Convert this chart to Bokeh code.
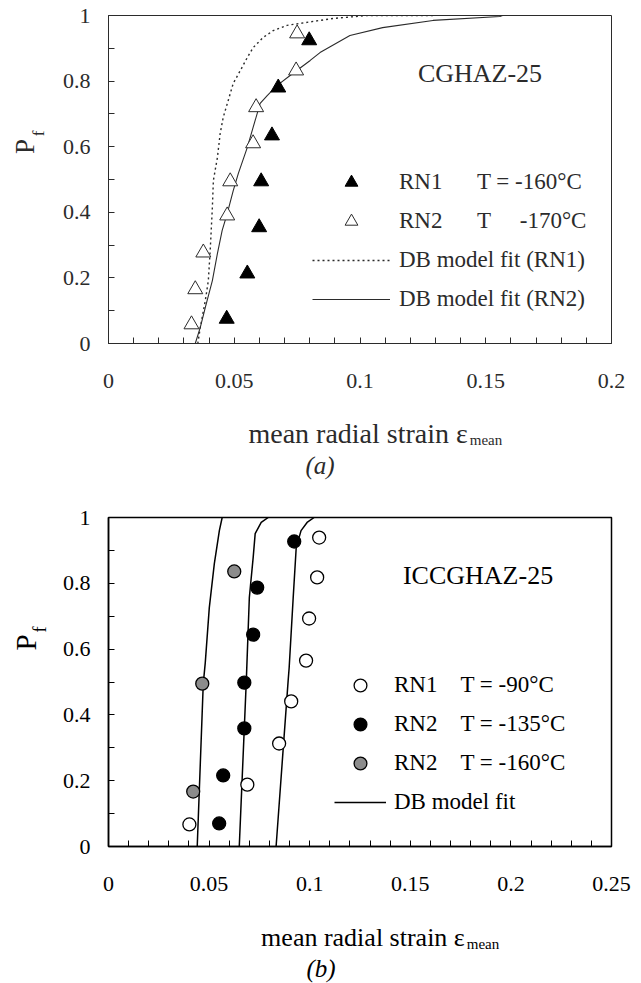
import numpy as np
from bokeh.plotting import figure
from bokeh.models import Range1d, FixedTicker, Label, Legend, LegendItem
from bokeh.layouts import column
from bokeh.embed import file_html
from bokeh.resources import INLINE

# ---------------- (a) CGHAZ-25 ----------------
a_x_ticks = [0, 0.05, 0.1, 0.15, 0.2]
a_x_labels = ["0", "0.05", "0.1", "0.15", "0.2"]
pf_ticks = [0, 0.2, 0.4, 0.6, 0.8, 1]
pf_labels = ["0", "0.2", "0.4", "0.6", "0.8", "1"]

a_rn1_strain = [0.0470, 0.0552, 0.0599, 0.0607, 0.0650, 0.0675, 0.0798]
a_rn1_pf = [0.075, 0.213, 0.354, 0.494, 0.634, 0.780, 0.924]

a_rn2_strain = [0.0330, 0.0345, 0.0377, 0.0472, 0.0484, 0.0575, 0.0587, 0.0746, 0.0750]
a_rn2_pf = [0.058, 0.165, 0.277, 0.390, 0.494, 0.610, 0.720, 0.832, 0.945]

a_fit_rn1_strain = [0.0355, 0.0365, 0.0385, 0.0397, 0.0405, 0.0413, 0.0417, 0.0433, 0.0444,
                    0.0456, 0.0476, 0.0496, 0.0524, 0.0552, 0.0575, 0.0615, 0.0655, 0.0710,
                    0.0762, 0.0893, 0.1030, 0.1290]
a_fit_rn1_pf = [0.0, 0.049, 0.131, 0.192, 0.293, 0.415, 0.497, 0.567, 0.640,
                0.689, 0.741, 0.793, 0.832, 0.872, 0.902, 0.933, 0.954, 0.970,
                0.976, 0.991, 1.0, 1.0]

a_fit_rn2_strain = [0.0345, 0.0365, 0.0385, 0.0413, 0.0433, 0.0452, 0.0472, 0.0496, 0.0516,
                    0.0552, 0.0575, 0.0603, 0.0631, 0.0671, 0.0722, 0.0802, 0.0841, 0.0960,
                    0.1090, 0.1290, 0.1556, 0.1567]
a_fit_rn2_pf = [0.0, 0.049, 0.110, 0.192, 0.274, 0.345, 0.396, 0.466, 0.518,
                0.598, 0.659, 0.732, 0.756, 0.787, 0.817, 0.863, 0.887, 0.939,
                0.963, 0.985, 0.997, 1.0]

# ---------------- (b) ICCGHAZ-25 ----------------
b_x_ticks = [0, 0.05, 0.1, 0.15, 0.2, 0.25]
b_x_labels = ["0", "0.05", "0.1", "0.15", "0.2", "0.25"]

b_rn1_90_strain = [0.0402, 0.0690, 0.0848, 0.0908, 0.0982, 0.0997, 0.1037, 0.1047]
b_rn1_90_pf = [0.067, 0.188, 0.313, 0.441, 0.565, 0.693, 0.818, 0.939]

b_rn2_135_strain = [0.0550, 0.0570, 0.0675, 0.0675, 0.0719, 0.0739, 0.0923]
b_rn2_135_pf = [0.070, 0.216, 0.359, 0.498, 0.644, 0.787, 0.927]

b_rn2_160_strain = [0.0421, 0.0466, 0.0625]
b_rn2_160_pf = [0.167, 0.495, 0.836]

b_fit_160_strain = [0.0441, 0.0471, 0.0481, 0.0501, 0.0526, 0.0551, 0.0565]
b_fit_160_pf = [0.0, 0.495, 0.559, 0.726, 0.860, 0.960, 1.0]

b_fit_135_strain = [0.0650, 0.0685, 0.0700, 0.0719, 0.0729, 0.0759, 0.0794]
b_fit_135_pf = [0.0, 0.505, 0.757, 0.878, 0.951, 0.985, 1.0]

b_fit_90_strain = [0.0833, 0.0893, 0.0898, 0.0918, 0.0933, 0.0957, 0.0987, 0.1022]
b_fit_90_pf = [0.0, 0.505, 0.544, 0.757, 0.909, 0.960, 0.985, 1.0]

FONT = "Liberation Serif"
W = 641
NB = "\u00a0"


class Frame:
    """Pixel geometry of a plot frame (page pixels), used to place annotations around it."""

    def __init__(self, left, top, width, height, xmax, fig_h, page_top):
        self.left, self.top, self.width, self.height = left, top, width, height
        self.xmax = xmax
        self.fig_h = fig_h
        self.page_top = page_top

    def x(self, px):
        return (px - self.left) / self.width * self.xmax

    def y(self, py):
        return (self.page_top + self.top + self.height - py) / self.height


def make_figure(fr, x_ticks, x_labels, ink, line_w):
    p = figure(width=W, height=fr.fig_h, output_backend="svg", toolbar_location=None,
               x_range=Range1d(0, fr.xmax), y_range=Range1d(0, 1),
               min_border_left=fr.left, min_border_top=fr.top,
               min_border_right=W - fr.left - fr.width,
               min_border_bottom=fr.fig_h - fr.top - fr.height)
    p.grid.visible = False
    p.outline_line_color = ink
    p.outline_line_width = line_w
    p.background_fill_color = "white"
    p.border_fill_color = "white"

    step = 0.01
    n = int(round(fr.xmax / step))
    x_minor = [i * step for i in range(1, n) if i % 5]
    p.xaxis.ticker = FixedTicker(ticks=x_ticks, minor_ticks=x_minor)
    p.xaxis.major_label_overrides = dict(zip(x_ticks, x_labels))
    p.yaxis.ticker = FixedTicker(ticks=pf_ticks, minor_ticks=[0.1, 0.3, 0.5, 0.7, 0.9])
    p.yaxis.major_label_overrides = dict(zip(pf_ticks, pf_labels))

    for ax in (p.xaxis, p.yaxis):
        ax.axis_line_color = ink
        ax.axis_line_width = line_w
        ax.major_tick_line_color = ink
        ax.minor_tick_line_color = ink
        ax.major_tick_in = 6
        ax.major_tick_out = 0
        ax.minor_tick_in = 6
        ax.minor_tick_out = 0
        ax.major_label_text_font = FONT
        ax.major_label_text_font_size = "22px"
        ax.major_label_text_color = ink
    p.xaxis.major_label_standoff = 30
    p.yaxis.major_label_standoff = 18
    return p


def add_text(p, x, y, text, size, ink, align="left", baseline="middle", angle=0.0,
             style="normal", side="center"):
    p.add_layout(Label(x=x, y=y, text=text, text_font=FONT, text_font_size=size,
                       text_color=ink, text_align=align, text_baseline=baseline,
                       angle=angle, text_font_style=style), side)


def add_decorations(p, fr, ink, pf_xy, pf_size, f_xy, f_size,
                    lab_end, lab_y, lab_size, sub_size, tag, tag_xy):
    """Axis titles (P_f, strain with subscript) and the panel tag, drawn around the frame."""
    add_text(p, fr.x(pf_xy[0]), fr.y(pf_xy[1]), "P", pf_size, ink, align="center",
             angle=np.pi / 2, side="left")
    add_text(p, fr.x(f_xy[0]), fr.y(f_xy[1]), "f", f_size, ink, align="center",
             angle=np.pi / 2, side="left")
    add_text(p, fr.x(lab_end), fr.y(lab_y), "mean radial strain ε", lab_size,
             ink, align="right", baseline="alphabetic", side="below")
    add_text(p, fr.x(lab_end + 2), fr.y(lab_y + 6), "mean", sub_size, ink,
             baseline="alphabetic", side="below")
    add_text(p, fr.x(tag_xy[0]), fr.y(tag_xy[1]), tag, "25px", ink, align="center",
             style="italic", side="below")


# ---------- panel (a) ----------
fa = Frame(108, 15, 504, 328, 0.2, 490, 0)
ink_a = "#2b2b2b"
pa = make_figure(fa, a_x_ticks, a_x_labels, ink_a, 1)

r_a_fit1 = pa.line(a_fit_rn1_strain, a_fit_rn1_pf, line_color=ink_a, line_width=1.4,
                   line_dash="2 3")
r_a_fit2 = pa.line(a_fit_rn2_strain, a_fit_rn2_pf, line_color=ink_a, line_width=1.1)
r_a_rn1 = pa.scatter(a_rn1_strain, a_rn1_pf, marker="triangle", size=15,
                     fill_color="black", line_color="black", line_width=1)
r_a_rn2 = pa.scatter(a_rn2_strain, a_rn2_pf, marker="triangle", size=15,
                     fill_color="white", line_color=ink_a, line_width=1)

leg_a = Legend(items=[
    LegendItem(label="RN1" + NB * 6 + "T = -160°C", renderers=[r_a_rn1]),
    LegendItem(label="RN2" + NB * 6 + "T" + NB * 5 + "-170°C", renderers=[r_a_rn2]),
    LegendItem(label="DB model fit (RN1)", renderers=[r_a_fit1]),
    LegendItem(label="DB model fit (RN2)", renderers=[r_a_fit2]),
], location=(204, 28), glyph_width=78, glyph_height=32, label_height=32,
    label_standoff=9, spacing=7, padding=0, margin=0,
    background_fill_alpha=0, border_line_alpha=0,
    label_text_font=FONT, label_text_font_size="23px", label_text_color=ink_a)
pa.add_layout(leg_a)

add_text(pa, fa.x(418), fa.y(73), "CGHAZ-25", "26px", ink_a)
add_decorations(pa, fa, ink_a, (24, 146), "27px", (38, 133), "17px",
                468, 433, "28px", "15px", "(a)", (320, 465))

# ---------- panel (b) ----------
fb = Frame(107, 27, 504, 329, 0.25, 493, 490)
ink_b = "black"
pb = make_figure(fb, b_x_ticks, b_x_labels, ink_b, 1.5)

r_b_fit = None
for xs, ys in ((b_fit_160_strain, b_fit_160_pf), (b_fit_135_strain, b_fit_135_pf),
               (b_fit_90_strain, b_fit_90_pf)):
    r = pb.line(xs, ys, line_color="black", line_width=1.5)
    if r_b_fit is None:
        r_b_fit = r
r_b_90 = pb.scatter(b_rn1_90_strain, b_rn1_90_pf, marker="circle", size=13,
                    fill_color="white", line_color="black", line_width=1.3)
r_b_135 = pb.scatter(b_rn2_135_strain, b_rn2_135_pf, marker="circle", size=13,
                     fill_color="black", line_color="black", line_width=1.3)
r_b_160 = pb.scatter(b_rn2_160_strain, b_rn2_160_pf, marker="circle", size=13,
                     fill_color="#8c8c8c", line_color="black", line_width=1.3)

leg_b = Legend(items=[
    LegendItem(label="RN1" + NB * 4 + "T = -90°C", renderers=[r_b_90]),
    LegendItem(label="RN2" + NB * 4 + "T = -135°C", renderers=[r_b_135]),
    LegendItem(label="RN2" + NB * 4 + "T = -160°C", renderers=[r_b_160]),
    LegendItem(label="DB model fit", renderers=[r_b_fit]),
], location=(226, 28), glyph_width=52, glyph_height=32, label_height=32,
    label_standoff=8, spacing=7, padding=0, margin=0,
    background_fill_alpha=0, border_line_alpha=0,
    label_text_font=FONT, label_text_font_size="23px", label_text_color=ink_b)
pb.add_layout(leg_b)

add_text(pb, fb.x(402), fb.y(575), "ICCGHAZ-25", "26px", ink_b)
add_decorations(pb, fb, ink_b, (24, 642), "29px", (38, 629), "18px",
                464, 937, "26px", "15px", "(b)", (320, 968))

layout = column(pa, pb)
open("out.html", "w").write(file_html(layout, INLINE))
